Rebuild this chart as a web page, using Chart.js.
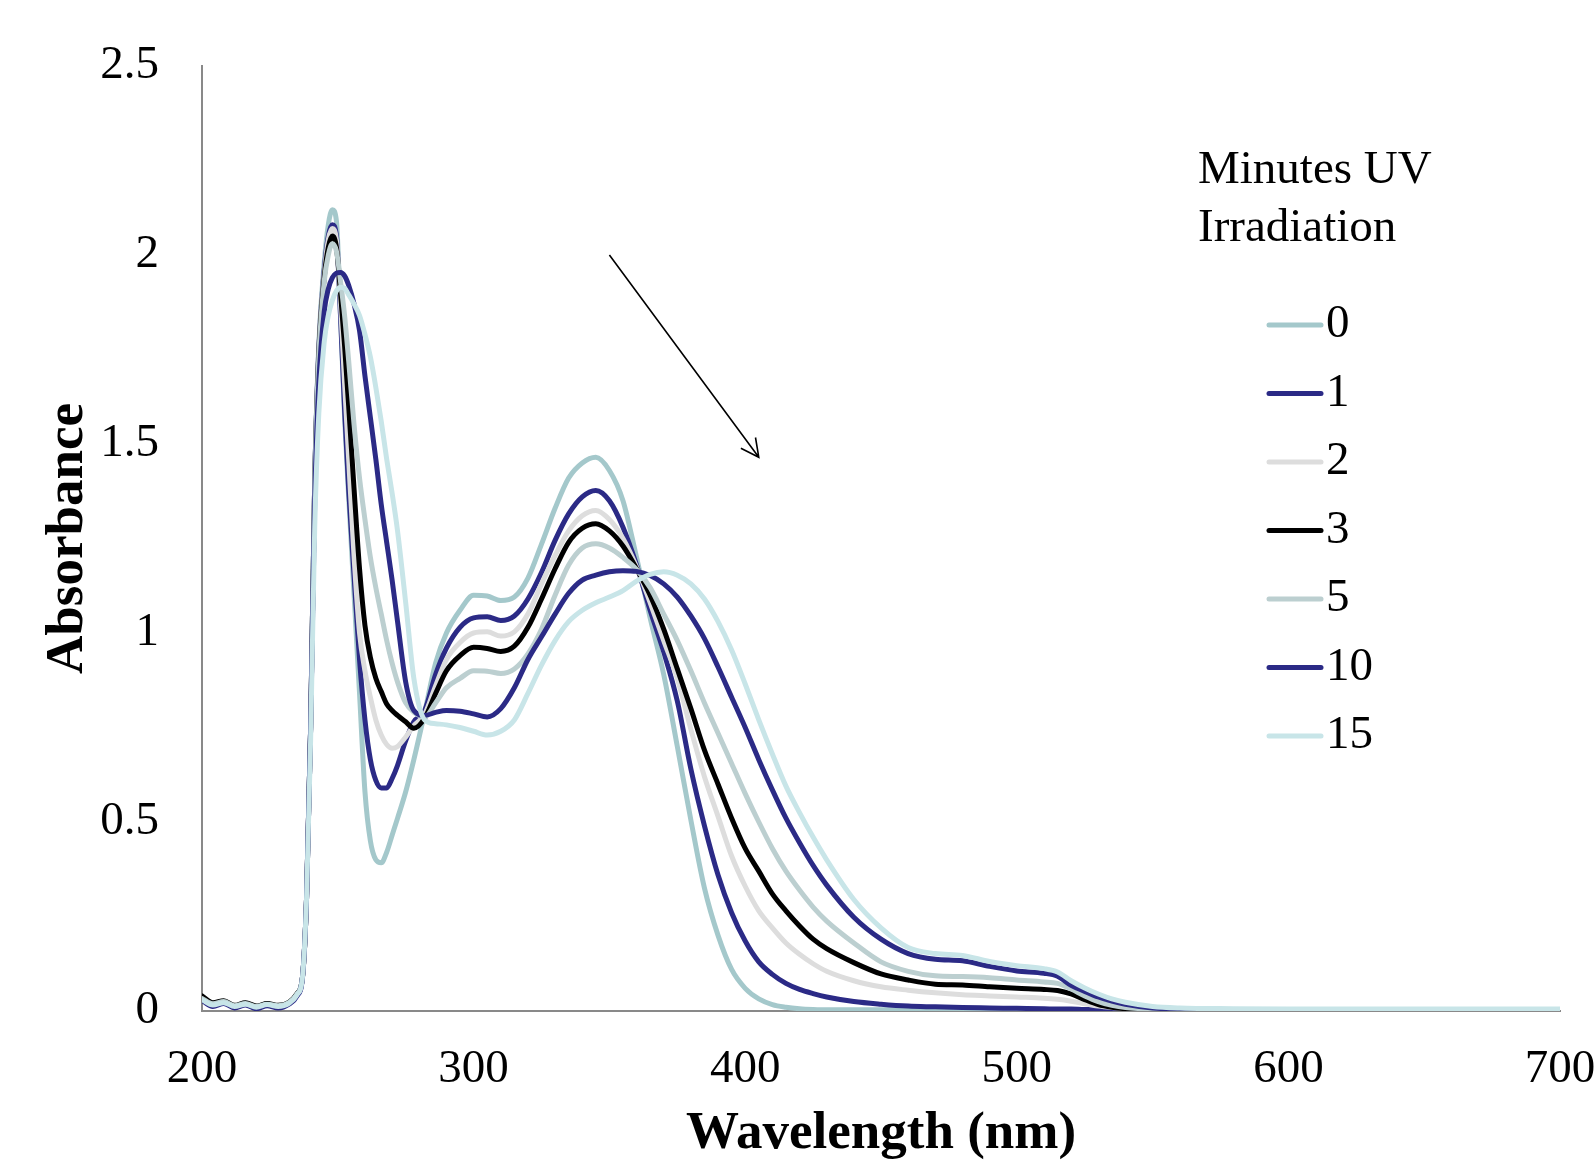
<!DOCTYPE html>
<html>
<head>
<meta charset="utf-8">
<script src="https://cdn.jsdelivr.net/npm/chart.js@4.4.1/dist/chart.umd.min.js"></script>
<style>
  html, body { margin: 0; padding: 0; background: #fff; }
  #wrap { position: relative; width: 1596px; height: 1161px; }
</style>
</head>
<body>
<div id="wrap"><canvas id="uvChart" width="1596" height="1161"></canvas></div>
<script>
// wavelength grid (nm), shared by every spectrum
const wavelengths = [200, 204, 208, 212, 216, 220, 224, 228, 232, 235,
  237, 238.5, 240, 241.5, 243, 245, 246.5, 248, 249.5, 251,
  252.5, 254, 256, 258, 260, 262, 264, 266, 268, 270,
  272, 275, 278, 282, 286, 290, 295, 300, 305, 310,
  315, 320, 325, 330, 335, 340, 345, 350, 355, 360,
  365, 370, 375, 380, 385, 390, 395, 400, 405, 410,
  415, 420, 425, 430, 440, 450, 460, 470, 480, 490,
  500, 510, 515, 520, 525, 530, 535, 540, 550, 560,
  580, 600, 650, 700];

// absorbance, one list per irradiation time
const abs0 = [0.035, 0.02, 0.026, 0.014, 0.021, 0.012, 0.019, 0.014, 0.022, 0.045,
  0.09, 0.3, 0.75, 1.4, 1.76, 1.98, 2.08, 2.12, 2.09, 1.84,
  1.57, 1.36, 1.1, 0.84, 0.58, 0.45, 0.4, 0.392, 0.42, 0.465,
  0.51, 0.58, 0.665, 0.79, 0.92, 1.0, 1.06, 1.1, 1.098, 1.086,
  1.095, 1.145, 1.235, 1.33, 1.41, 1.45, 1.465, 1.43, 1.35, 1.2,
  1.04, 0.89, 0.7, 0.505, 0.325, 0.2, 0.11, 0.06, 0.032, 0.017,
  0.01, 0.006, 0.004, 0.003, 0.003, 0.003, 0.003, 0.003, 0.003, 0.003,
  0.003, 0.003, 0.003, 0.003, 0.003, 0.003, 0.003, 0.003, 0.003, 0.003,
  0.003, 0.003, 0.003, 0.003];

const abs1 = [0.03, 0.015, 0.022, 0.01, 0.018, 0.008, 0.016, 0.01, 0.02, 0.042,
  0.09, 0.3, 0.75, 1.4, 1.75, 1.96, 2.05, 2.08, 2.05, 1.84,
  1.59, 1.38, 1.15, 0.93, 0.77, 0.665, 0.61, 0.59, 0.59, 0.615,
  0.65, 0.715, 0.765, 0.795, 0.89, 0.96, 1.015, 1.04, 1.043, 1.033,
  1.045, 1.09, 1.16, 1.245, 1.315, 1.36, 1.377, 1.35, 1.28, 1.18,
  1.06, 0.95, 0.82, 0.64, 0.49, 0.36, 0.26, 0.185, 0.13, 0.097,
  0.073, 0.057, 0.046, 0.037, 0.025, 0.018, 0.013, 0.011, 0.009, 0.008,
  0.007, 0.006, 0.005, 0.005, 0.004, 0.004, 0.003, 0.003, 0.003, 0.003,
  0.003, 0.003, 0.003, 0.003];

const abs2 = [0.032, 0.018, 0.024, 0.013, 0.02, 0.011, 0.018, 0.013, 0.021, 0.044,
  0.09, 0.3, 0.75, 1.4, 1.75, 1.95, 2.04, 2.07, 2.04, 1.87,
  1.66, 1.46, 1.2, 1.0, 0.9, 0.83, 0.77, 0.73, 0.705, 0.695,
  0.7, 0.725, 0.755, 0.785, 0.86, 0.93, 0.975, 1.0, 1.003, 0.992,
  1.003, 1.05, 1.13, 1.205, 1.27, 1.31, 1.324, 1.3, 1.25, 1.175,
  1.08, 0.98, 0.88, 0.745, 0.62, 0.515, 0.41, 0.33, 0.265, 0.22,
  0.18, 0.15, 0.125, 0.105, 0.08, 0.064, 0.055, 0.048, 0.043, 0.04,
  0.037, 0.034, 0.031, 0.026, 0.019, 0.013, 0.009, 0.006, 0.004, 0.003,
  0.003, 0.003, 0.003, 0.003];

const abs3 = [0.04, 0.022, 0.027, 0.015, 0.022, 0.013, 0.02, 0.015, 0.023, 0.046,
  0.09, 0.3, 0.75, 1.4, 1.74, 1.94, 2.02, 2.05, 2.02, 1.9,
  1.76, 1.6, 1.38, 1.17, 1.02, 0.935, 0.88, 0.845, 0.812, 0.795,
  0.782, 0.765, 0.748, 0.775, 0.84, 0.9, 0.94, 0.962, 0.959, 0.951,
  0.965, 1.015, 1.09, 1.17, 1.24, 1.277, 1.289, 1.27, 1.23, 1.17,
  1.1, 1.01, 0.905, 0.8, 0.69, 0.6, 0.51, 0.43, 0.37, 0.31,
  0.265, 0.225, 0.19, 0.165, 0.128, 0.098, 0.082, 0.071, 0.069, 0.064,
  0.06, 0.057, 0.054, 0.045, 0.03, 0.017, 0.01, 0.006, 0.004, 0.003,
  0.003, 0.003, 0.003, 0.003];

const abs5 = [0.033, 0.019, 0.025, 0.014, 0.02, 0.012, 0.018, 0.014, 0.022, 0.045,
  0.09, 0.3, 0.75, 1.4, 1.73, 1.93, 2.0, 2.03, 2.01, 1.93,
  1.84, 1.72, 1.55, 1.41, 1.3, 1.2, 1.12, 1.05, 0.98, 0.92,
  0.87, 0.815, 0.79, 0.778, 0.815, 0.855, 0.88, 0.9, 0.899, 0.893,
  0.905, 0.945, 1.01, 1.1, 1.18, 1.225, 1.236, 1.225, 1.2, 1.168,
  1.12, 1.05, 0.98, 0.9, 0.815, 0.735, 0.655, 0.575, 0.5, 0.43,
  0.37, 0.32, 0.275, 0.238, 0.18, 0.13, 0.105, 0.093, 0.091, 0.088,
  0.082, 0.077, 0.073, 0.058, 0.04, 0.025, 0.015, 0.009, 0.005, 0.003,
  0.003, 0.003, 0.003, 0.003];

const abs10 = [0.028, 0.012, 0.02, 0.008, 0.016, 0.006, 0.014, 0.008, 0.018, 0.04,
  0.09, 0.3, 0.75, 1.35, 1.66, 1.85, 1.91, 1.94, 1.952, 1.954,
  1.945, 1.92, 1.87, 1.8, 1.68, 1.57, 1.46, 1.34, 1.24, 1.14,
  1.03, 0.87, 0.795, 0.782, 0.79, 0.795, 0.793, 0.786, 0.778, 0.8,
  0.855, 0.93, 0.99, 1.05, 1.105, 1.14, 1.153, 1.162, 1.165, 1.163,
  1.152, 1.13, 1.095, 1.045, 0.985, 0.91, 0.83, 0.75, 0.665, 0.585,
  0.51, 0.445, 0.385, 0.333, 0.248, 0.19, 0.152, 0.137, 0.133, 0.118,
  0.106, 0.1, 0.092, 0.068, 0.052, 0.037, 0.026, 0.018, 0.008, 0.005,
  0.003, 0.003, 0.003, 0.003];

const abs15 = [0.03, 0.016, 0.022, 0.012, 0.018, 0.01, 0.017, 0.012, 0.02, 0.043,
  0.09, 0.3, 0.72, 1.28, 1.58, 1.77, 1.84, 1.88, 1.905, 1.915,
  1.912, 1.895, 1.87, 1.84, 1.79, 1.73, 1.65, 1.56, 1.46, 1.37,
  1.27, 1.08, 0.88, 0.77, 0.76, 0.757, 0.75, 0.74, 0.73, 0.74,
  0.77, 0.84, 0.915, 0.98, 1.03, 1.06, 1.08, 1.095, 1.112, 1.137,
  1.155, 1.162, 1.153, 1.13, 1.09, 1.03, 0.955, 0.865, 0.77, 0.68,
  0.595, 0.525, 0.46, 0.4, 0.295, 0.22, 0.168, 0.152, 0.147, 0.131,
  0.12, 0.112, 0.103, 0.08, 0.061, 0.045, 0.032, 0.023, 0.012, 0.008,
  0.006, 0.005, 0.005, 0.005];

const minutes = ['0', '1', '2', '3', '5', '10', '15'];
const spectra = [abs0, abs1, abs2, abs3, abs5, abs10, abs15];
const colors = ['#a4c8cb', '#2b2a86', '#dddddd', '#000000', '#bccfd0', '#2b2a86', '#c8e5e8'];

// trend arrow, in data units (nm, absorbance)
const arrowFrom = [350, 2.0];
const arrowTo = [405, 1.465];

const serif = '"Liberation Serif", "Times New Roman", serif';

const overlayPlugin = {
  id: 'overlay',
  afterDatasetsDraw(chart) {
    const { ctx, scales: { x, y } } = chart;
    ctx.save();

    // arrow
    const x1 = x.getPixelForValue(arrowFrom[0]), y1 = y.getPixelForValue(arrowFrom[1]);
    const x2 = x.getPixelForValue(arrowTo[0]), y2 = y.getPixelForValue(arrowTo[1]);
    const ang = Math.atan2(y2 - y1, x2 - x1);
    const head = 20, spread = 27 * Math.PI / 180;
    ctx.strokeStyle = '#000';
    ctx.lineWidth = 1.6;
    ctx.beginPath();
    ctx.moveTo(x1, y1);
    ctx.lineTo(x2, y2);
    ctx.moveTo(x2 - head * Math.cos(ang - spread), y2 - head * Math.sin(ang - spread));
    ctx.lineTo(x2, y2);
    ctx.lineTo(x2 - head * Math.cos(ang + spread), y2 - head * Math.sin(ang + spread));
    ctx.stroke();

    // legend
    ctx.fillStyle = '#000';
    ctx.textBaseline = 'middle';
    ctx.textAlign = 'left';
    ctx.font = `47px ${serif}`;
    ctx.fillText('Minutes UV', 1198, 171);
    ctx.fillText('Irradiation', 1198, 229);

    ctx.lineCap = 'round';
    ctx.lineWidth = 5;
    minutes.forEach((m, i) => {
      const ly = 325 + i * 68.5;
      ctx.strokeStyle = colors[i];
      ctx.beginPath();
      ctx.moveTo(1269, ly);
      ctx.lineTo(1321, ly);
      ctx.stroke();
      ctx.fillText(m, 1326, ly);
    });
    ctx.restore();
  }
};

const datasets = spectra.map((vals, i) => ({
  label: minutes[i],
  data: wavelengths.map((w, k) => ({ x: w, y: vals[k] })),
  borderColor: colors[i],
  borderWidth: 5,
  pointRadius: 0,
  cubicInterpolationMode: 'monotone',
  borderJoinStyle: 'round',
  borderCapStyle: 'round',
  order: spectra.length - i   // later spectra drawn on top, as in the original
}));

new Chart(document.getElementById('uvChart').getContext('2d'), {
  type: 'line',
  data: { datasets },
  options: {
    responsive: false,
    animation: false,
    layout: { padding: { top: 66, right: 36, bottom: 0, left: 0 } },
    plugins: {
      legend: { display: false },
      tooltip: { enabled: false }
    },
    scales: {
      x: {
        type: 'linear',
        min: 200,
        max: 700,
        afterFit: (scale) => {
          scale.height = 150;
          scale.paddingLeft = 0;
          scale.paddingRight = 0;
        },
        grid: { display: false, drawTicks: false },
        border: { display: true, color: '#898989', width: 2 },
        ticks: {
          stepSize: 100,
          padding: 30,
          color: '#000',
          maxRotation: 0,
          font: { family: serif, size: 47 }
        },
        title: {
          display: true,
          text: 'Wavelength (nm)',
          color: '#000',
          padding: { top: 0, bottom: 0 },
          font: { family: serif, size: 53, weight: 'bold', lineHeight: 1 }
        }
      },
      y: {
        min: 0,
        max: 2.5,
        afterFit: (scale) => {
          scale.width = 202;
          scale.paddingTop = 0;
          scale.paddingBottom = 0;
        },
        grid: { display: false, drawTicks: false },
        border: { display: true, color: '#898989', width: 2 },
        ticks: {
          stepSize: 0.5,
          padding: 43,
          color: '#000',
          font: { family: serif, size: 47 },
          callback: (v) => String(+v.toFixed(1))
        },
        title: {
          display: true,
          text: 'Absorbance',
          color: '#000',
          padding: { top: 42, bottom: 0 },
          font: { family: serif, size: 53, weight: 'bold', lineHeight: 1 }
        }
      }
    }
  },
  plugins: [overlayPlugin]
});
</script>
</body>
</html>
